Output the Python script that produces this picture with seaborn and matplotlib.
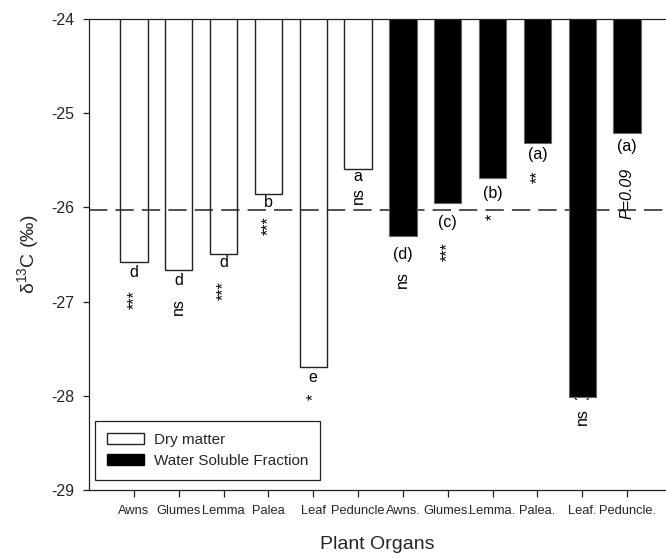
import matplotlib
matplotlib.use("Agg")
import matplotlib.pyplot as plt
import pandas as pd
import seaborn as sns
from matplotlib.patches import Patch

# Plant organs (dry matter first, then water soluble fraction)
organs = ["Awns", "Glumes", "Lemma", "Palea", "Leaf", "Peduncle",
          "Awns.", "Glumes.", "Lemma.", "Palea.", "Leaf.", "Peduncle."]
fractions = ["Dry matter"] * 6 + ["Water Soluble Fraction"] * 6
delta13c = [-26.58, -26.66, -26.49, -25.86, -27.70, -25.59,
            -26.30, -25.95, -25.69, -25.31, -28.01, -25.21]
group_letters = ["d", "d", "d", "b", "e", "a",
                 "(d)", "(c)", "(b)", "(a)", "(e)", "(a)"]
significance = ["***", "ns", "***", "***", "*", "ns",
                "ns", "***", "*", "**", "ns", "P=0.09"]
reference_value = -26.03

df = pd.DataFrame({"organ": organs, "fraction": fractions, "delta": delta13c})

sns.set_style("ticks")
plt.rcParams["font.family"] = ["Liberation Sans", "DejaVu Sans"]
plt.rcParams["mathtext.default"] = "regular"
plt.rcParams["axes.unicode_minus"] = False

fig = plt.figure(figsize=(6.66, 5.59), dpi=100)
ax = fig.add_axes([0.1329, 0.124, 0.8671, 0.8415])

palette = {"Dry matter": "white", "Water Soluble Fraction": "black"}
sns.barplot(data=df, x="organ", y="delta", hue="fraction", order=organs,
            palette=palette, dodge=False, width=0.61, linewidth=1.0,
            edgecolor="#222222", legend=False, ax=ax)

# style bars: black bars sit above the reference line, white ones below it
for p in ax.patches:
    fc = p.get_facecolor()
    if fc[0] < 0.5:
        p.set_edgecolor("#666666")
        p.set_linewidth(0.8)
        p.set_zorder(3)
    else:
        p.set_zorder(1)

ax.axhline(reference_value, color="#222222", lw=1.1, dashes=(12, 5.3), zorder=2)

ax.set_ylim(-29, -24)
ax.set_xlim(-1.013, 11.87)
ax.set_yticks([-29, -28, -27, -26, -25, -24])

# annotation offsets (pixels below the bar end)
letter_off = [10, 11, 9, 8.5, 10, 7.5, 19, 20, 15, 11.5, -4, 13.5]
sig_off = [38, 37, 37, 31, 29, 27, 44, 49, 39, 34, 20, 60]

for i, (v, lab, sig) in enumerate(zip(delta13c, group_letters, significance)):
    ax.annotate(lab, xy=(i, v), xytext=(0, -letter_off[i]),
                textcoords="offset pixels", ha="center", va="center",
                fontsize=11.5, color="black",
                zorder=2.5 if i == 10 else 4)
    style = "italic" if sig.startswith("P") else "normal"
    ax.annotate(sig, xy=(i, v), xytext=(0, -sig_off[i]),
                textcoords="offset pixels", ha="center", va="center",
                rotation=90, fontsize=11.5, fontstyle=style, color="black",
                zorder=4)

for side in ["left", "bottom", "top"]:
    ax.spines[side].set_visible(True)
    ax.spines[side].set_linewidth(0.9)
    ax.spines[side].set_color("#222222")
    ax.spines[side].set_zorder(5)
ax.spines["right"].set_visible(False)

ax.tick_params(axis="y", direction="out", length=4, width=0.9,
               labelsize=11.5, pad=6, color="#222222")
ax.tick_params(axis="x", direction="out", length=5, width=0.9,
               labelsize=9.3, pad=6, color="#222222")

ax.set_ylabel("δ$^{13}$C (‰)", fontsize=14)
ax.set_xlabel("Plant Organs", fontsize=14)
ax.yaxis.set_label_coords(-0.082, 0.5)
ax.xaxis.set_label_coords(0.5, -0.099)

handles = [Patch(facecolor="white", edgecolor="#222222", label="Dry matter"),
           Patch(facecolor="black", edgecolor="black", label="Water Soluble Fraction")]
leg = ax.legend(handles=handles, loc="lower left",
                bbox_to_anchor=(0.0113, 0.0206), fontsize=11,
                frameon=True, fancybox=False, edgecolor="#222222",
                framealpha=1, borderpad=0.8, handlelength=2.4,
                handleheight=0.72, handletextpad=0.65, labelspacing=0.45,
                borderaxespad=0)
leg.get_frame().set_linewidth(0.9)
leg.set_zorder(6)

fig.savefig("out.png", dpi=100)
